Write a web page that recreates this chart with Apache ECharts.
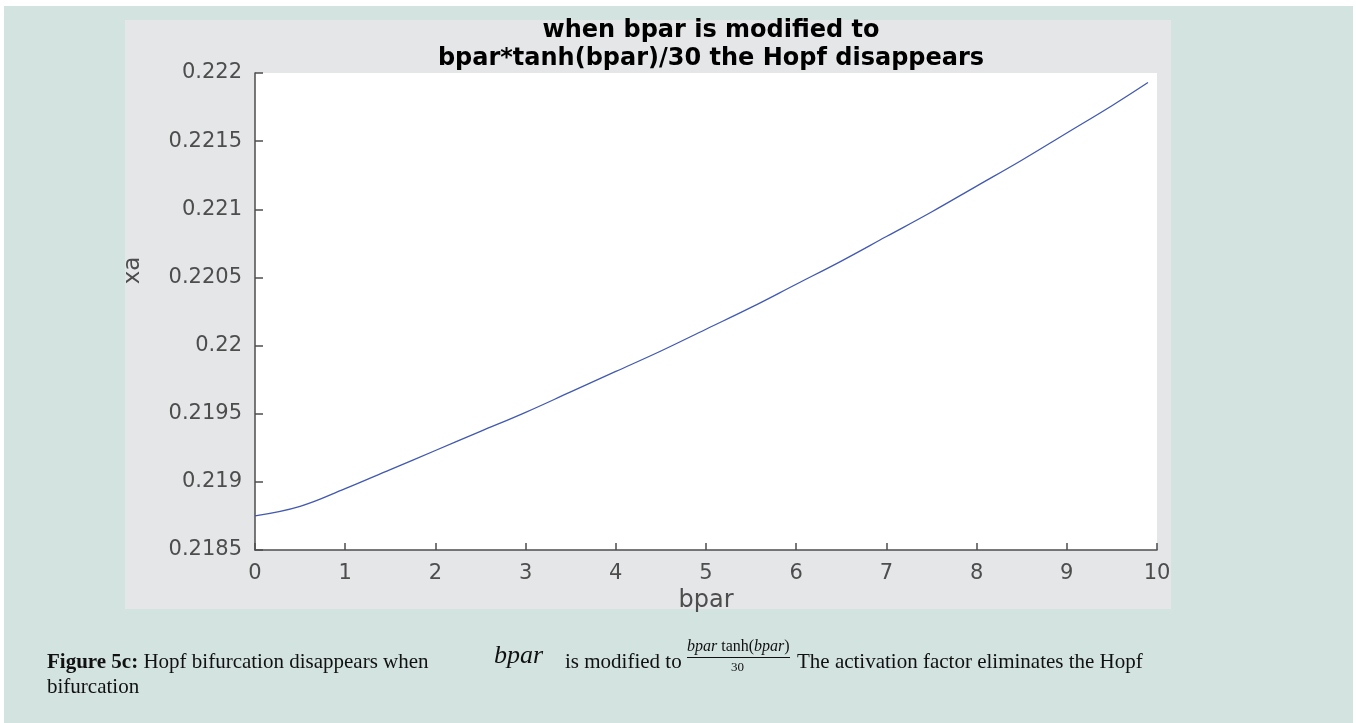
<!DOCTYPE html>
<html>
<head>
<meta charset="utf-8">
<script src="https://cdn.jsdelivr.net/npm/echarts@6/dist/echarts.min.js"></script>
<style>
html,body{margin:0;padding:0;background:#ffffff;}
#chart{width:1356px;height:723px;}
</style>
</head>
<body>
<div id="chart"></div>
<script>
// ---- data ----
const bpar = [0, 0.5, 1, 1.5, 2, 2.5, 3, 3.5, 4, 4.5, 5, 5.5, 6, 6.5, 7, 7.5, 8, 8.5, 9, 9.5, 9.9];
const xa = [0.21875, 0.21882, 0.21895, 0.21909, 0.21923, 0.21937, 0.21951, 0.21966, 0.21981, 0.21996, 0.22012, 0.22028, 0.22045, 0.22062, 0.22080, 0.22098, 0.22117, 0.22136, 0.22156, 0.22176, 0.22193];
const xTicks = [0, 10, 1];          // min, max, interval
const yTicks = [0.2185, 0.222, 0.0005];
const titleLines = ['when bpar is modified to', 'bpar*tanh(bpar)/30 the Hopf disappears'];
const xName = 'bpar';
const yName = 'xa';

const chart = echarts.init(document.getElementById('chart'), null, {renderer: 'canvas'});
const axisColor = '#4d4d4d';
const sans = 'DejaVu Sans';
const serif = 'Liberation Serif';
const capFont = 21;

const option = {
  backgroundColor: '#ffffff',
  animation: false,
  graphic: [
    {type: 'rect', z: -10, shape: {x: 4, y: 6, width: 1349, height: 717}, style: {fill: '#d3e3e0'}, silent: true},
    {type: 'rect', z: -9, shape: {x: 125, y: 20, width: 1046, height: 589}, style: {fill: '#e5e6e8'}, silent: true},
    // caption
    {type: 'text', left: 47, top: 652, style: {
      text: '{b|Figure 5c:} Hopf bifurcation disappears when',
      font: capFont + 'px ' + serif, fill: '#111',
      rich: {b: {fontWeight: 'bold', fontFamily: serif, fontSize: capFont, fill: '#111'}}
    }},
    {type: 'text', left: 494, top: 643, style: {text: 'bpar', font: 'italic 26px ' + serif, fill: '#111'}},
    {type: 'text', left: 565, top: 652, style: {text: 'is modified to', font: capFont + 'px ' + serif, fill: '#111'}},
    {type: 'text', left: 687, top: 639, style: {
      text: '{i|bpar} tanh({i|bpar})', font: '16px ' + serif, fill: '#111',
      rich: {i: {fontStyle: 'italic', fontFamily: serif, fontSize: 16, fill: '#111'}}
    }},
    {type: 'line', shape: {x1: 687, y1: 657.5, x2: 790, y2: 657.5}, style: {stroke: '#111', lineWidth: 1}},
    {type: 'text', left: 731, top: 661, style: {text: '30', font: '13px ' + serif, fill: '#111'}},
    {type: 'text', left: 797, top: 652, style: {text: 'The activation factor eliminates the Hopf', font: capFont + 'px ' + serif, fill: '#111'}},
    {type: 'text', left: 47, top: 677, style: {text: 'bifurcation', font: capFont + 'px ' + serif, fill: '#111'}}
  ],
  title: {
    text: titleLines.join('\n'),
    left: 706, top: 12, textAlign: 'center',
    textStyle: {fontFamily: sans, fontWeight: 'bold', fontSize: 24, lineHeight: 28, color: '#000'}
  },
  grid: {left: 255, top: 73, right: 199, bottom: 173, show: true, backgroundColor: '#ffffff', borderWidth: 0},
  xAxis: {
    type: 'value', min: xTicks[0], max: xTicks[1], interval: xTicks[2],
    name: xName, nameLocation: 'middle', nameGap: 38,
    nameTextStyle: {fontFamily: sans, fontSize: 24, color: axisColor},
    axisLine: {show: true, lineStyle: {color: axisColor, width: 1.5}},
    axisTick: {show: true, inside: true, length: 7, lineStyle: {color: axisColor, width: 1.5}},
    axisLabel: {fontFamily: sans, fontSize: 21, color: axisColor, margin: 13},
    splitLine: {show: false}
  },
  yAxis: {
    type: 'value', min: yTicks[0], max: yTicks[1], interval: yTicks[2],
    name: yName, nameLocation: 'middle', nameGap: 110, nameRotate: 90,
    nameTextStyle: {fontFamily: sans, fontSize: 23, color: axisColor, padding: [0, 0, 0, 82]},
    axisLine: {show: true, lineStyle: {color: axisColor, width: 1.5}},
    axisTick: {show: true, inside: true, length: 8, lineStyle: {color: axisColor, width: 1.5}},
    axisLabel: {fontFamily: sans, fontSize: 21, color: axisColor, margin: 13,
      formatter: v => String(+v.toFixed(4))},
    splitLine: {show: false}
  },
  series: [{
    type: 'line', data: bpar.map((b, i) => [b, xa[i]]),
    showSymbol: false, smooth: 0.4,
    lineStyle: {color: '#4159b0', width: 1.3}
  }]
};
chart.setOption(option);
</script>
</body>
</html>
